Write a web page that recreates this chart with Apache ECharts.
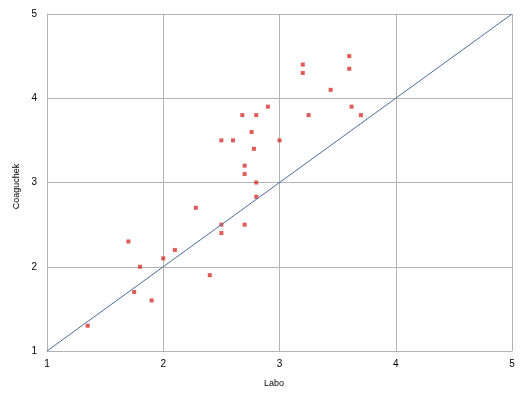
<!DOCTYPE html>
<html>
<head>
<meta charset="utf-8">
<script src="https://cdn.jsdelivr.net/npm/echarts@6/dist/echarts.min.js"></script>
<style>
  html, body { margin: 0; padding: 0; background: #fff; }
  #chart { width: 525px; height: 399px; }
</style>
</head>
<body>
<div id="chart"></div>
<script>
// Labo values (x) and Coaguchek values (y)
const labo = [1.35, 1.7, 1.75, 1.8, 1.9, 2.0, 2.1, 2.28, 2.4, 2.5, 2.5, 2.7,
  2.5, 2.6, 2.68, 2.8, 2.76, 2.78, 2.7, 2.7, 2.8, 2.8, 2.9, 3.0,
  3.2, 3.2, 3.25, 3.44, 3.6, 3.6, 3.62, 3.7]
const coaguchek = [1.3, 2.3, 1.7, 2.0, 1.6, 2.1, 2.2, 2.7, 1.9, 2.5, 2.4, 2.5,
  3.5, 3.5, 3.8, 3.8, 3.6, 3.4, 3.2, 3.1, 3.0, 2.83, 3.9, 3.5,
  4.4, 4.3, 3.8, 4.1, 4.5, 4.35, 3.9, 3.8]
// reference line y = x
const refLine = [[1, 1], [5, 5]]
const axisTicks = [1, 2, 3, 4, 5]

const points = labo.map((x, i) => [x, coaguchek[i]])

const axisCommon = {
  type: 'value',
  min: axisTicks[0],
  max: axisTicks[axisTicks.length - 1],
  interval: 1,
  nameLocation: 'middle',
  axisLine: { show: true, lineStyle: { color: '#b3b3b3', width: 1 } },
  axisTick: { show: false },
  axisLabel: { color: '#000', fontSize: 10, fontFamily: 'Liberation Sans' },
  splitLine: { show: true, lineStyle: { color: '#b3b3b3', width: 1 } }
}

const myChart = echarts.init(document.getElementById('chart'))
myChart.setOption({
  animation: false,
  grid: { left: 47, right: 13, top: 14, bottom: 48 },
  xAxis: Object.assign({}, axisCommon, {
    name: 'Labo',
    nameGap: 28,
    nameTextStyle: { color: '#000', fontSize: 9, fontFamily: 'Liberation Sans', padding: [0, 11, 0, 0] },
    axisLabel: Object.assign({}, axisCommon.axisLabel, { margin: 8 })
  }),
  yAxis: Object.assign({}, axisCommon, {
    name: 'Coaguchek',
    nameGap: 24,
    nameTextStyle: { color: '#000', fontSize: 9, fontFamily: 'Liberation Sans', padding: [0, 8, 0, 0] },
    axisLabel: Object.assign({}, axisCommon.axisLabel, { margin: 10 })
  }),
  series: [
    {
      type: 'line',
      data: refLine,
      symbol: 'none',
      lineStyle: { color: '#4a6d9c', width: 1 },
      silent: true
    },
    {
      type: 'scatter',
      data: points,
      symbol: 'rect',
      symbolSize: 4,
      itemStyle: { color: '#d7322a' }
    }
  ]
})
</script>
</body>
</html>
